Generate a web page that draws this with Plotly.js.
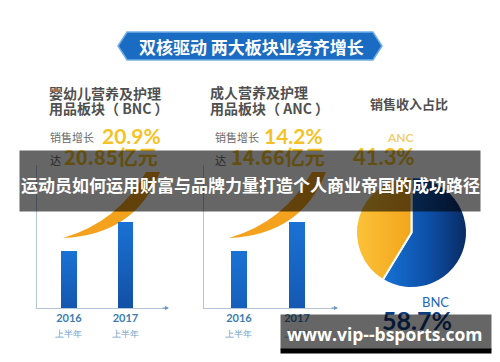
<!DOCTYPE html>
<html><head><meta charset="utf-8">
<script src="https://cdn.plot.ly/plotly-3.0.1.min.js"></script>
<style>html,body{margin:0;padding:0;background:#fff;}#chart{width:500px;height:362px;}</style>
</head><body><div id="chart"></div>
<script>
// ---- data ----
const periods = ['2016', '2017'];
const periodSuffix = '上半年';
const bncSales = [17.25, 20.85];   // 亿元, BNC
const ancSales = [12.84, 14.66];   // 亿元, ANC
const bncGrowth = '20.9%';
const ancGrowth = '14.2%';
const bncTotal = '20.85';
const ancTotal = '14.66';
const shareLabels = ['BNC', 'ANC'];
const shareValues = [58.7, 41.3];

// ---- helpers (pixel -> paper) ----
const W = 500, H = 362;
const px = x => x / W;
const py = y => 1 - y / H;
const pathOf = pts => pts.map(p => p[0] + ' ' + px(p[1]).toFixed(4) + ',' + py(p[2]).toFixed(4)).join(' ') + ' Z';

const CJK = '"Noto Sans CJK SC", "Noto Sans", sans-serif';
const NUM = 'Lato, "Noto Sans", sans-serif';
const tickText = periods.map(p => '<b>' + p + '</b><br><span style="font-size:9px;color:#6f9fcc">' + periodSuffix + '</span>');

function barTrace(vals, xa, ya) {
  return {type: 'bar', x: periods, y: vals, xaxis: xa, yaxis: ya, width: 0.28,
    marker: {color: '#1260bd', line: {width: 0}}, hoverinfo: 'skip', showlegend: false};
}
const data = [
  barTrace(bncSales, 'x', 'y'),
  barTrace(ancSales, 'x2', 'y2'),
  {type: 'pie', labels: shareLabels, values: shareValues, sort: false, direction: 'clockwise', rotation: 0,
   textinfo: 'none', hoverinfo: 'skip', showlegend: false,
   marker: {colors: ['#0f55b0', '#f7b42a'], line: {color: '#ffffff', width: 2}},
   domain: {x: [px(356), px(467)], y: [py(288), py(177)]}}
];

function xax(x0, x1, r) {
  return {domain: [px(x0), px(x1)], range: r, type: 'category', showline: true, linecolor: '#b3c6d9', linewidth: 1,
    showgrid: false, zeroline: false, ticks: '', tickmode: 'array', tickvals: periods, ticktext: tickText,
    tickfont: {family: NUM, size: 11, color: '#3b7db0'}, fixedrange: true};
}
function yax(r, anchor) {
  return {domain: [py(308), py(165)], range: r, showline: true, linecolor: '#b3c6d9', linewidth: 1,
    showgrid: false, zeroline: false, showticklabels: false, ticks: '', anchor: anchor, fixedrange: true};
}

function txt(text, x, y, size, color, anchor, family) {
  return {xref: 'paper', yref: 'paper', x: px(x), y: py(y), xanchor: anchor || 'left', yanchor: 'middle',
    text: text, showarrow: false, font: {family: family || CJK, size: size, color: color}};
}
function box(x0, y0, x1, y1, color) {
  return {xref: 'paper', yref: 'paper', x: px((x0 + x1) / 2), y: py((y0 + y1) / 2), xanchor: 'center', yanchor: 'middle',
    text: ' ', showarrow: false, width: x1 - x0, height: y1 - y0, borderpad: 0, bgcolor: color, font: {size: 1}};
}
function arrow(x, y) {
  return {xref: 'paper', yref: 'paper', x: px(x), y: py(y), ax: -8, ay: 0, text: '', showarrow: true,
    arrowhead: 2, arrowsize: 0.8, arrowwidth: 1, arrowcolor: '#6f93bd'};
}

const grey = '#505050', soft = '#6a6a6a', gold = '#f5c226';
const annotations = [
  txt('<b>双核驱动 两大板块业务齐增长</b>', 251, 46, 17, '#ffffff', 'center'),
  txt('<b>婴幼儿营养及护理</b>', 47, 93, 14, grey),
  txt('<b>用品板块（ BNC ）</b>', 47, 108, 14, grey),
  txt('销售增长', 48, 137, 11, soft),
  txt('<b>' + bncGrowth + '</b>', 100, 136, 21, gold, 'left', NUM),
  txt('<b>成人营养及护理</b>', 208, 92, 14, grey),
  txt('<b>用品板块（ ANC ）</b>', 208, 108, 14, grey),
  txt('销售增长', 213, 137, 11, soft),
  txt('<b>' + ancGrowth + '</b>', 262, 136, 21, gold, 'left', NUM),
  txt('<b>销售收入占比</b>', 409, 103, 13, grey, 'center'),
  txt('<b>' + shareLabels[1] + '</b>', 416, 137, 12, '#f1cf72', 'right', NUM),
  txt('<b>' + shareValues[1] + '%</b>', 417, 157, 22, gold, 'right', NUM),
  txt('达', 48, 160, 11, soft),
  txt('<b>' + bncTotal + '亿元</b>', 62, 157, 20, gold),
  txt('达', 213, 160, 11, soft),
  txt('<b>' + ancTotal + '亿元</b>', 229, 157, 20, gold),
  txt(shareLabels[0], 451, 302, 13, '#2266b6', 'right', NUM),
  txt('<b>' + shareValues[0] + '%</b>', 454, 320, 25, '#0e3c80', 'right', NUM),
  arrow(169, 308),
  arrow(338, 308),
  box(20, 151, 480, 211, 'rgba(0,0,0,0.6)'),
  txt('<b>运动员如何运用财富与品牌力量打造个人商业帝国的成功路径</b>', 250, 184, 17, '#ffffff', 'center'),
  box(281, 315, 491, 349, 'rgba(0,0,0,0.6)'),
  box(281, 349, 491, 353, '#000000'),
  txt('<b>www.vip--bsports.com</b>', 385, 334, 17.5, '#ffffff', 'center', '"Open Sans", sans-serif')
];

function swoosh(dx) {
  return {type: 'path', xref: 'paper', yref: 'paper', layer: 'below', fillcolor: '#f4a21d', line: {width: 0},
    path: pathOf([['M', 63 + dx, 238], ['Q', 135 + dx, 235], ['', 160 + dx, 172], ['L', 146 + dx, 172], ['Q', 118 + dx, 222], ['', 63 + dx, 238]])};
}
const shapes = [
  {type: 'path', xref: 'paper', yref: 'paper', layer: 'below', fillcolor: '#1a6cc2', line: {color: '#72aee8', width: 1.5},
   path: pathOf([['M', 118, 46], ['L', 127, 32], ['L', 373, 32], ['L', 382, 46], ['L', 373, 60], ['L', 127, 60]])},
  swoosh(0),
  swoosh(166)
];

const layout = {
  width: W, height: H, margin: {l: 0, r: 0, t: 0, b: 0}, paper_bgcolor: '#ffffff', plot_bgcolor: 'rgba(0,0,0,0)',
  showlegend: false, bargap: 0,
  xaxis: xax(37, 167, [-0.566, 1.735]), yaxis: yax([10.175, 27.93], 'x'),
  xaxis2: Object.assign(xax(204, 336, [-0.603, 1.672]), {anchor: 'y2'}), yaxis2: yax([9.262, 18.24], 'x2'),
  annotations: annotations, shapes: shapes
};
layout.xaxis.anchor = 'y';

Plotly.newPlot('chart', data, layout, {staticPlot: true, displayModeBar: false}).then(gd => {
  const ns = 'http://www.w3.org/2000/svg';
  const svg = gd.querySelector('svg.main-svg');
  let defs = svg.querySelector('defs');
  if (!defs) { defs = document.createElementNS(ns, 'defs'); svg.insertBefore(defs, svg.firstChild); }
  function grad(id, x2, y2, stops) {
    const g = document.createElementNS(ns, 'linearGradient');
    g.setAttribute('id', id); g.setAttribute('x1', '0'); g.setAttribute('y1', '0');
    g.setAttribute('x2', x2); g.setAttribute('y2', y2);
    stops.forEach(s => { const st = document.createElementNS(ns, 'stop'); st.setAttribute('offset', s[0]); st.setAttribute('stop-color', s[1]); g.appendChild(st); });
    defs.appendChild(g);
  }
  grad('gBar', '0', '1', [['0', '#1a72d4'], ['1', '#0b2f78']]);
  grad('gBlue', '1', '0', [['0', '#1673d6'], ['0.55', '#0d4fa6'], ['1', '#0a2a62']]);
  grad('gGold', '1', '0', [['0', '#fbc238'], ['1', '#f3a51c']]);
  gd.querySelectorAll('.barlayer .point path').forEach(p => { p.style.fill = 'url(#gBar)'; });
  const sl = gd.querySelectorAll('.pielayer .slice path.surface');
  if (sl[0]) sl[0].style.fill = 'url(#gBlue)';
  if (sl[1]) sl[1].style.fill = 'url(#gGold)';
});
</script>
</body></html>
